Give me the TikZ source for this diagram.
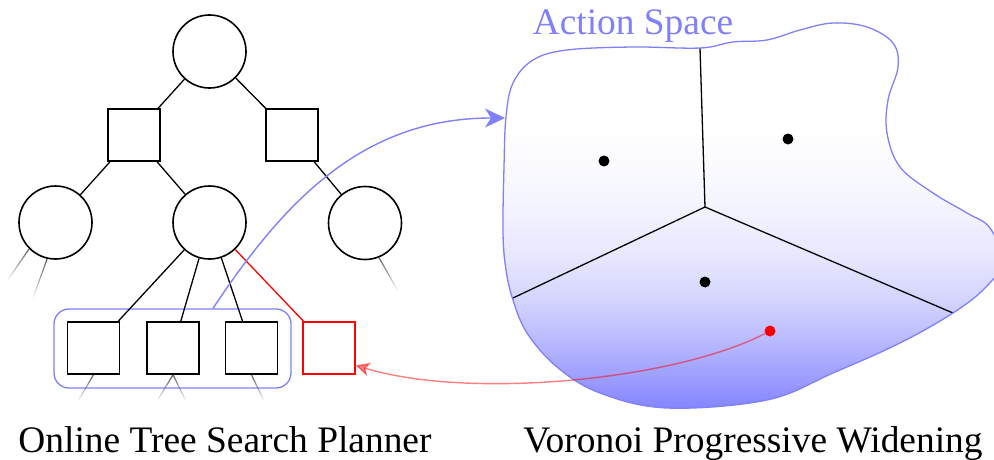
\documentclass[tikz,border=0pt]{standalone}
\usepackage{fontspec}
\setmainfont{Liberation Serif}
\usetikzlibrary{calc,arrows.meta}

% an edge to an unexpanded child: fades out along its length
\newcommand\fadedge[2]{%
  \foreach \k in {0,...,15}{%
    \pgfmathsetmacro\ta{\k/16}%
    \pgfmathsetmacro\tb{(\k+1)/16}%
    \pgfmathsetmacro\op{0.9*(1-\k/16)}%
    \draw[fadestroke, draw opacity=\op] ($(#1)!\ta!(#2)$) -- ($(#1)!\tb!(#2)$);
  }}

% white at the top of the action space, deepening to blue at its bottom
\pgfdeclareverticalshading{actionfill}{100bp}{%
  color(0bp)=(blue!48); color(25bp)=(blue!48); color(25.9bp)=(blue!47);
  color(30.4bp)=(blue!39); color(37.5bp)=(blue!27); color(44.6bp)=(blue!17);
  color(51.8bp)=(blue!10); color(62.5bp)=(blue!4); color(75bp)=(white);
  color(100bp)=(white)}

\tikzset{
  statenode/.style={circle, draw, line width=1.6pt, fill=white, minimum size=73pt, inner sep=0pt},
  actnode/.style={rectangle, draw, line width=1.6pt, fill=white, minimum size=52pt, inner sep=0pt},
  treeedge/.style={line width=1.3pt},
  fadestroke/.style={black!70, line width=1.2pt, line cap=butt},
  sample/.style={circle, fill=black, minimum size=11pt, inner sep=0pt},
  captiontext/.style={font=\rmfamily\fontsize{37.4}{44}\selectfont, inner sep=0pt, anchor=base},
  cellwall/.style={line width=1.3pt},
}

\begin{document}
\begin{tikzpicture}[x=1pt, y=-1pt]
\useasboundingbox (0,0) rectangle (994,460);

% ---------- action space with Voronoi cells ----------
\def\blob{plot[smooth cycle, tension=0.6] coordinates {
  (506,117) (504,167) (503,233) (506,270) (513,300) (527,333) (557,367)
  (600,393) (667,408) (767,400) (833,373) (900,343) (953,313) (985,288)
  (1002,262) (990,228) (967,213) (933,193) (900,167) (887,133) (888,100)
  (898,67) (893,43) (867,27) (833,23) (800,30) (767,40) (733,42) (700,48)
  (633,47) (567,50) (533,60) (513,83)}}

\begin{scope}
  \clip \blob;
  \shade[shading=actionfill] (490,130) rectangle (1010,410);
\end{scope}

\coordinate (vc) at (705,207);
\coordinate (vt) at (700,48);
\coordinate (vl) at (513,298);
\coordinate (vr) at (953,313);
\draw[cellwall] (vt) -- (vc) -- (vl);
\draw[cellwall] (vc) -- (vr);

\node[sample] (d1) at (604,161) {};
\node[sample] (d2) at (788,139) {};
\node[sample] (d3) at (705,282) {};

\draw[blue!50, line width=1.3pt] \blob;

\node[captiontext, text=blue!50] (asp) at (633,35) {Action Space};

% ---------- search tree ----------
\node[statenode] (root) at (209.5,51.5) {};
\node[actnode] (q1) at (134,135) {};
\node[actnode] (q2) at (292,135) {};
\node[statenode] (c1) at (55.5,222.5) {};
\node[statenode] (c2) at (209.5,222.5) {};
\node[statenode] (c3) at (365,223) {};
\node[actnode] (s1) at (93.5,348) {};
\node[actnode] (s2) at (173,348) {};
\node[actnode] (s3) at (251.5,348) {};
\node[actnode, draw=red] (sr) at (329,348) {};

\node[draw=blue!50, line width=1.3pt, rounded corners=15pt, minimum width=237pt,
      minimum height=79pt, inner sep=0pt] (grp) at (172.5,348.5) {};

\draw[treeedge] (root) -- (q1);
\draw[treeedge] (root) -- (q2);
\draw[treeedge] (q1) -- (c1);
\draw[treeedge] (q1) -- (c2);
\draw[treeedge] (q2) -- (c3);
\draw[treeedge] (c2) -- (s1);
\draw[treeedge] (c2) -- (s2);
\draw[treeedge] (c2) -- (s3);
\draw[treeedge, red] (c2) -- (sr);

% unexpanded children
\coordinate (f1) at (7,281);
\coordinate (f2) at (33,298);
\coordinate (f3) at (398,291);
\coordinate (f4) at (78,401);
\coordinate (f5) at (157,401);
\coordinate (f6) at (186,401);
\coordinate (f7) at (264,401);
\fadedge{c1.225}{f1}
\fadedge{c1.257}{f2}
\fadedge{c3.292}{f3}
\fadedge{s1.south}{f4}
\fadedge{s2.south}{f5}
\fadedge{s2.south}{f6}
\fadedge{s3.south}{f7}

% ---------- links between the two panels ----------
\coordinate (gtop) at ($(grp.north west)!0.67!(grp.north east)$);
\coordinate (aleft) at (505,118);
\draw[blue!50, line width=1.4pt, -{Stealth[length=20pt, width=19pt, inset=6pt]}]
  (gtop) .. controls (288,195) and (367,118) .. (aleft);

\node[sample, fill=red] (rdot) at (770,331) {};
\draw[red, draw opacity=0.5, fill opacity=0.5, line width=1.4pt,
      -{Stealth[length=14pt, width=14pt, inset=4pt]}]
  (rdot) .. controls (675,380) and (470,400) .. (sr.-33);

% ---------- captions ----------
\node[captiontext] (cap1) at (225,452) {Online Tree Search Planner};
\node[captiontext] (cap2) at (753,452) {Voronoi Progressive Widening};
\end{tikzpicture}
\end{document}
